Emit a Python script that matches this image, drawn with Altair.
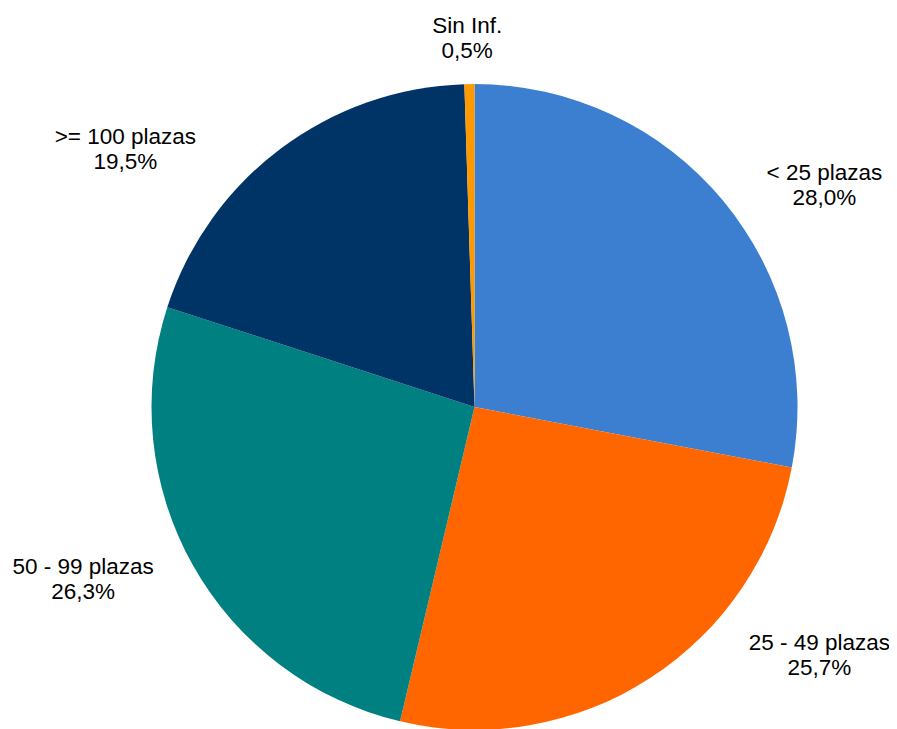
import altair as alt
import pandas as pd

# --- data ---
categories = ["< 25 plazas", "25 - 49 plazas", "50 - 99 plazas", ">= 100 plazas", "Sin Inf."]
shares = [28.0, 25.7, 26.3, 19.5, 0.5]
pct_labels = ["28,0%", "25,7%", "26,3%", "19,5%", "0,5%"]

# --- styling / layout ---
colors = ["#3C7ECF", "#FF6600", "#008080", "#003366", "#FF9900"]
label_nudges = [(88, -17), (160, -49), (-95, -7), (-145, 2), (-2, -41)]

df = pd.DataFrame({
    "cat": categories,
    "share": shares,
    "pct": pct_labels,
    "idx": list(range(len(categories))),
})
df["label"] = df["cat"] + "\n" + df["pct"]

base = alt.Chart(df).encode(
    theta=alt.Theta("share:Q", stack=True),
    order=alt.Order("idx:Q", sort="ascending"),
)

pie = base.mark_arc(outerRadius=323).encode(
    color=alt.Color("cat:N", scale=alt.Scale(domain=categories, range=colors), legend=None)
)

layers = [pie]
for cat, (dx, dy) in zip(categories, label_nudges):
    layers.append(
        base.transform_calculate(show=f"datum.cat == '{cat}' ? datum.label : ''")
        .mark_text(
            radius=340, dx=dx, dy=dy, font="Liberation Sans", fontSize=22.5,
            lineBreak="\n", lineHeight=25, align="center", baseline="middle", color="#000000",
        )
        .encode(text="show:N")
    )

chart = alt.layer(*layers).properties(
    width=829,
    height=644,
    padding={"left": 52, "top": 77, "right": 0, "bottom": 0},
    autosize="none",
).configure_view(strokeWidth=0)

chart.save("out.html", embed_options={"renderer": "svg", "actions": False})
